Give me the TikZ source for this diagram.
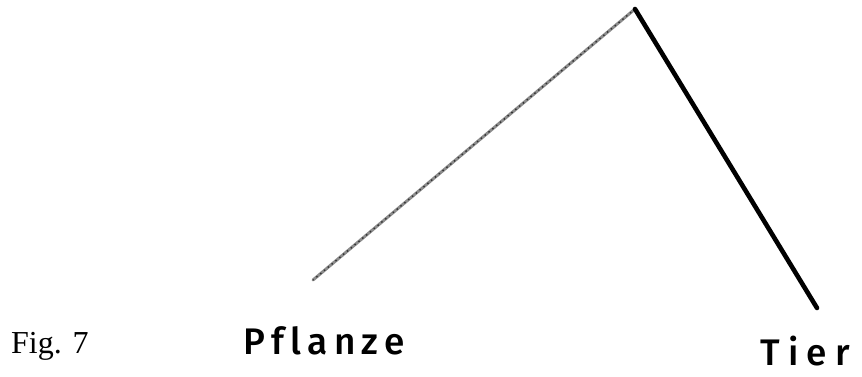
\documentclass[tikz,border=0pt]{standalone}
\usepackage{fontspec}
\setmainfont{Liberation Serif}
\newfontfamily\handfont{Fira Sans}[UprightFont=* Medium]
\begin{document}
\begin{tikzpicture}[x=1pt,y=-1pt,
  hand/.style={font=\handfont\fontsize{37}{40}\selectfont, inner sep=0pt, anchor=base west, text depth=0pt},
  plantline/.style={draw=black!45, line width=3pt, line cap=round},
  plantspeck/.style={draw=black!80, line width=1.4pt, dash pattern=on 1.5pt off 3.5pt},
  animalline/.style={draw=black, line width=4.6pt, line cap=round}]
\useasboundingbox (0,0) rectangle (862,377);
\coordinate (apex) at (635,9);
\coordinate (plantend) at (313,280);
\coordinate (animalend) at (817,308);
\draw[plantline] (apex) -- (plantend);
\draw[plantspeck] (apex) -- (plantend);
\draw[animalline] (apex) -- (animalend);
\node[font=\fontsize{32}{36}\selectfont, inner sep=0pt, anchor=base west] (fig) at (11,353) {Fig. 7};
\node[hand] (pflanze) at (243,354) {\makebox[162pt][s]{P\hfill f\hfill l\hfill a\hfill n\hfill z\hfill e}};
\node[hand] (tier) at (760,365) {\makebox[90pt][s]{T\hfill i\hfill e\hfill r}};
\end{tikzpicture}
\end{document}
